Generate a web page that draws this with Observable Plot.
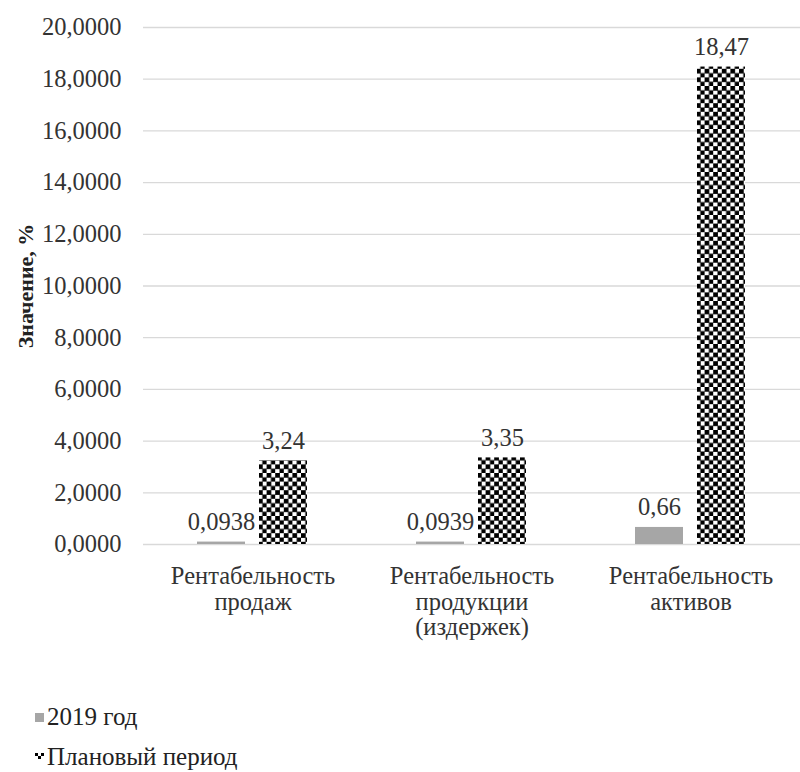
<!DOCTYPE html>
<html>
<head>
<meta charset="utf-8">
<script src="https://cdn.jsdelivr.net/npm/d3@7"></script>
<script src="https://cdn.jsdelivr.net/npm/@observablehq/plot@0.6"></script>
<style>
  html, body { margin: 0; background: #fff; font-family: 'Liberation Serif', serif; overflow: hidden; }
  #chart { width: 800px; }
  #chart svg text { font-family: 'Liberation Serif', serif; }
  .legend { font-family: 'Liberation Serif', serif; font-size: 25px; line-height: 26px; color: #222; }
  .legend div { display: flex; align-items: center; height: 26px; position: absolute; left: 35px; }
  .legend svg { margin-right: 3px; }
</style>
</head>
<body>
<div id="chart"></div>
<div class="legend" id="legend"></div>
<script>
const categories = ["Рентабельность продаж", "Рентабельность продукции (издержек)", "Рентабельность активов"];
const seriesNames = ["2019 год", "Плановый период"];
const values2019 = [0.0938, 0.0939, 0.66];
const valuesPlan = [3.24, 3.35, 18.47];
const labels2019 = ["0,0938", "0,0939", "0,66"];
const labelsPlan = ["3,24", "3,35", "18,47"];
const yTicks = [0, 2, 4, 6, 8, 10, 12, 14, 16, 18, 20];

const data = [];
categories.forEach((c, i) => {
  data.push({category: c, series: seriesNames[0], value: values2019[i], label: labels2019[i]});
  data.push({category: c, series: seriesNames[1], value: valuesPlan[i], label: labelsPlan[i]});
});

const ru = d3.formatLocale({decimal: ",", thousands: " ", grouping: [3], currency: ["", ""]});
const fmt = ru.format(".4f");
const FS = 24.5;

const plot = Plot.plot({
  width: 800,
  height: 664,
  marginLeft: 143,
  marginRight: 0,
  marginTop: 27,
  marginBottom: 120,
  style: {fontFamily: "'Liberation Serif', serif", fontSize: FS + "px", color: "#333", background: "#fff"},
  fx: {domain: categories, padding: 0, paddingOuter: 0, label: null, axis: null},
  x: {domain: seriesNames, paddingInner: 0.22, paddingOuter: 0.86, axis: null},
  y: {domain: [0, 20], ticks: yTicks},
  color: {type: "ordinal", domain: seriesNames, range: ["#a6a6a6", "url(#checker)"]},
  marks: [
    Plot.ruleY(yTicks, {stroke: "#d9d9d9", strokeWidth: 1.3}),
    Plot.barY(data, {fx: "category", x: "series", y: "value", fill: "series"}),
    Plot.text(data, {fx: "category", x: "series", y: "value", text: "label", dy: -20, fill: "#333", fontSize: FS}),
    Plot.axisY({ticks: yTicks, tickFormat: fmt, tickSize: 0, tickPadding: 22, label: "Значение, %", labelAnchor: "center", labelArrow: "none", labelOffset: 126, fontSize: FS}),
    Plot.axisFx({anchor: "bottom", tickSize: 0, tickPadding: 22, lineHeight: 1.03, tickFormat: d => d.replace(/ /g, "\n"), label: null, fontSize: FS})
  ]
});

// pattern defs
const svg = d3.select(plot);
const defs = svg.insert("defs", ":first-child");
const pat = defs.append("pattern").attr("id", "checker").attr("patternUnits", "userSpaceOnUse")
  .attr("width", 8.6).attr("height", 8.6);
pat.append("rect").attr("width", 8.6).attr("height", 8.6).attr("fill", "#fff");
pat.append("rect").attr("x", 0).attr("y", 0).attr("width", 4.7).attr("height", 4.7).attr("fill", "#000");
pat.append("rect").attr("x", 4.3).attr("y", 4.3).attr("width", 4.7).attr("height", 4.7).attr("fill", "#000");

// bold y label
svg.selectAll('g[aria-label="y-axis label"] text').attr("font-weight", "bold").attr("font-size", 22).attr("fill", "#222");

document.getElementById("chart").appendChild(plot);

// legend
const legend = document.getElementById("legend");
const items = [
  {name: seriesNames[0], top: 704, icon: '<svg width="9" height="9"><rect width="9" height="9" fill="#a6a6a6"/></svg>'},
  {name: seriesNames[1], top: 744, icon: '<svg width="9" height="9"><rect width="9" height="9" fill="#fff"/><rect x="0" y="0" width="3" height="3" fill="#000"/><rect x="6" y="0" width="3" height="3" fill="#000"/><rect x="3" y="3" width="3" height="3" fill="#000"/></svg>'}
];
items.forEach(it => {
  const d = document.createElement("div");
  d.style.top = it.top + "px";
  d.innerHTML = it.icon + "<span>" + it.name + "</span>";
  legend.appendChild(d);
});
</script>
</body>
</html>
